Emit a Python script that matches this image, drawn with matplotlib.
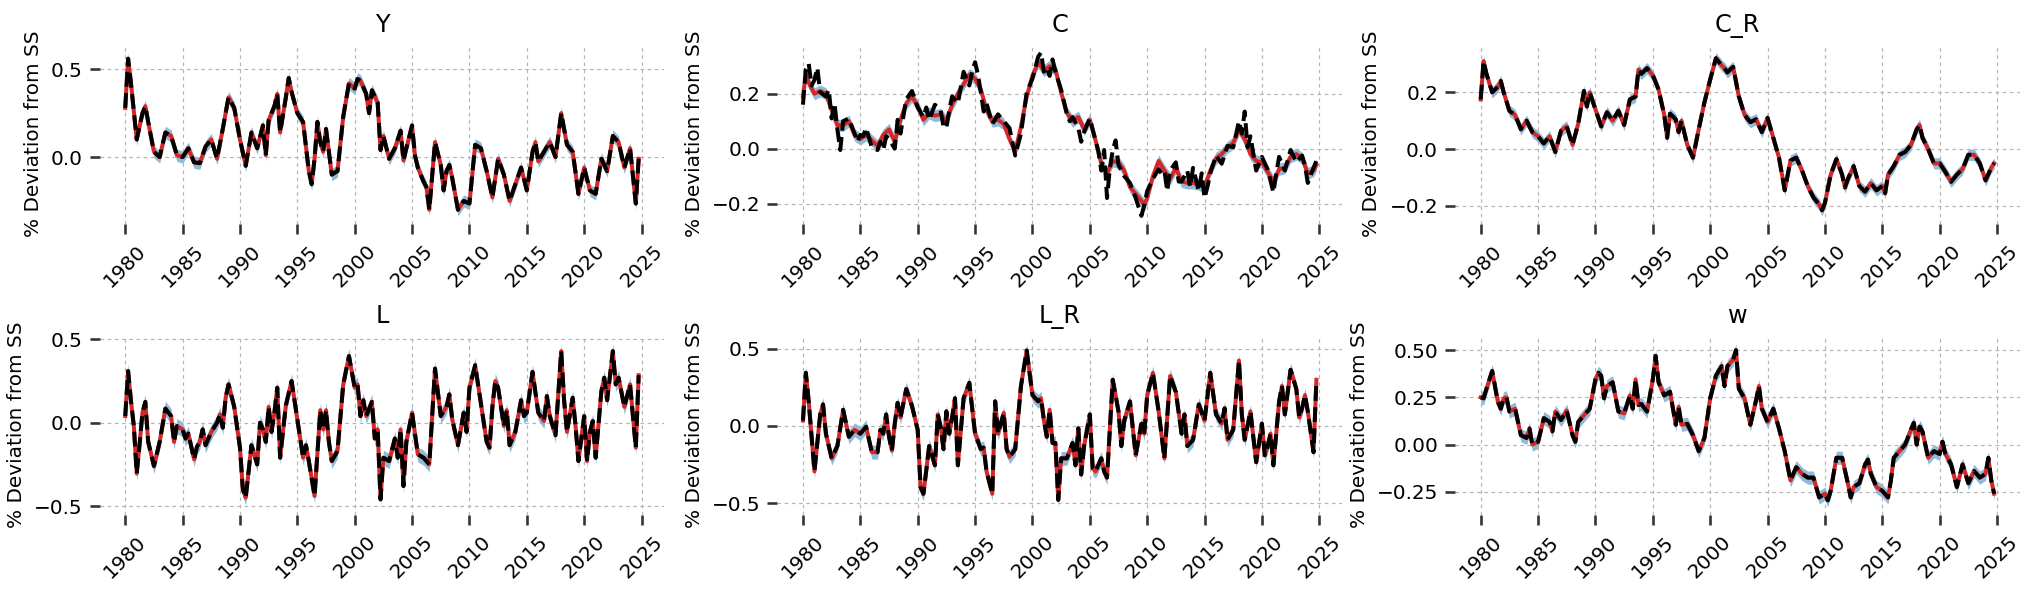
import matplotlib
matplotlib.use("Agg")
import matplotlib.pyplot as plt
from matplotlib.ticker import MultipleLocator
import numpy as np

# ---------------- data ----------------
titles = ["Y", "C", "C_R", "L", "L_R", "w"]
xticks = [1980, 1985, 1990, 1995, 2000, 2005, 2010, 2015, 2020, 2025]
ylabel = "% Deviation from SS"

t_Y = [1980.0, 1980.25, 1980.5, 1981.0, 1981.5, 1981.75, 1982.0, 1982.5, 1983.0, 1983.5, 1984.0, 1984.5,
       1985.0, 1985.5, 1986.0, 1986.5, 1987.0, 1987.5, 1988.0, 1988.5, 1989.0, 1989.5, 1990.0, 1990.5,
       1991.0, 1991.5, 1992.0, 1992.25, 1992.5, 1993.0, 1993.25, 1993.5, 1994.0, 1994.25, 1994.5, 1995.0,
       1995.5, 1996.0, 1996.25, 1996.5, 1996.75, 1997.0, 1997.25, 1997.5, 1998.0, 1998.5, 1999.0, 1999.5,
       2000.0, 2000.25, 2000.5, 2001.0, 2001.25, 2001.5, 2002.0, 2002.25, 2002.5, 2003.0, 2003.5, 2004.0,
       2004.25, 2004.5, 2005.0, 2005.25, 2005.5, 2006.0, 2006.25, 2006.5, 2007.0, 2007.5, 2007.75, 2008.0,
       2008.25, 2008.5, 2009.0, 2009.5, 2010.0, 2010.5, 2011.0, 2011.5, 2012.0, 2012.5, 2013.0, 2013.5,
       2014.0, 2014.5, 2015.0, 2015.5, 2015.75, 2016.0, 2016.5, 2017.0, 2017.5, 2018.0, 2018.5, 2019.0,
       2019.5, 2020.0, 2020.5, 2021.0, 2021.5, 2022.0, 2022.5, 2023.0, 2023.5, 2024.0, 2024.5, 2024.75]
v_Y = [0.28, 0.56, 0.42, 0.10, 0.25, 0.29, 0.20, 0.03, 0.00, 0.14, 0.12, 0.01,
       0.00, 0.05, -0.03, -0.035, 0.06, 0.10, -0.01, 0.16, 0.34, 0.28, 0.10, -0.05,
       0.14, 0.05, 0.18, 0.01, 0.21, 0.29, 0.36, 0.14, 0.34, 0.45, 0.37, 0.25,
       0.20, -0.08, -0.155, -0.01, 0.20, 0.085, 0.03, 0.16, -0.10, -0.08, 0.23, 0.42,
       0.39, 0.445, 0.435, 0.36, 0.25, 0.38, 0.31, 0.04, 0.12, -0.01, 0.05, 0.15,
       -0.02, 0.05, 0.18, 0.01, -0.06, -0.14, -0.17, -0.30, 0.085, -0.045, -0.19, -0.08,
       -0.045, -0.12, -0.30, -0.25, -0.265, 0.07, 0.05, -0.08, -0.23, -0.01, -0.10, -0.25,
       -0.155, -0.06, -0.19, 0.03, 0.085, -0.025, 0.03, 0.085, 0.00, 0.25, 0.07, 0.03,
       -0.21, -0.06, -0.19, -0.21, -0.01, -0.08, 0.12, 0.085, -0.06, 0.05, -0.265, -0.01]

# C: smoothed mean (red) and observed data (black) differ visibly
t_C_mean = [1980.0, 1980.25, 1980.5, 1981.0, 1981.5, 1982.0, 1982.5, 1983.0, 1983.5, 1984.0, 1984.5, 1985.0,
            1985.5, 1986.0, 1986.5, 1987.0, 1987.5, 1988.0, 1988.5, 1989.0, 1989.5, 1990.0, 1990.5, 1991.0,
            1991.5, 1992.0, 1992.5, 1993.0, 1993.5, 1994.0, 1994.5, 1995.0, 1995.5, 1996.0, 1996.5, 1997.0,
            1997.5, 1998.0, 1998.5, 1999.0, 1999.5, 2000.0, 2000.5, 2001.0, 2001.5, 2002.0, 2002.5, 2003.0,
            2003.5, 2004.0, 2004.5, 2005.0, 2005.5, 2006.0, 2006.5, 2007.0, 2007.5, 2008.0, 2008.5, 2009.0,
            2009.5, 2009.75, 2010.0, 2010.5, 2011.0, 2011.5, 2012.0, 2012.5, 2013.0, 2013.5, 2014.0, 2014.5,
            2015.0, 2015.5, 2016.0, 2016.5, 2017.0, 2017.5, 2018.0, 2018.5, 2019.0, 2019.5, 2020.0, 2020.5,
            2021.0, 2021.5, 2022.0, 2022.5, 2023.0, 2023.5, 2024.0, 2024.5, 2024.75]
v_C_mean = [0.19, 0.27, 0.24, 0.20, 0.21, 0.20, 0.14, 0.085, 0.085, 0.10, 0.05, 0.035,
            0.05, 0.03, 0.01, 0.05, 0.07, 0.025, 0.105, 0.165, 0.19, 0.155, 0.105, 0.13,
            0.12, 0.125, 0.10, 0.16, 0.20, 0.235, 0.27, 0.255, 0.215, 0.14, 0.10, 0.105,
            0.09, 0.035, -0.01, 0.08, 0.19, 0.265, 0.315, 0.285, 0.30, 0.29, 0.205, 0.13,
            0.10, 0.115, 0.07, 0.105, 0.03, -0.055, -0.09, -0.045, -0.05, -0.08, -0.14, -0.165,
            -0.19, -0.205, -0.18, -0.10, -0.045, -0.08, -0.11, -0.07, -0.12, -0.125, -0.125, -0.13,
            -0.14, -0.08, -0.035, -0.02, 0.005, 0.02, 0.07, 0.035, -0.02, -0.045, -0.05, -0.085,
            -0.12, -0.075, -0.07, -0.03, -0.02, -0.035, -0.09, -0.08, -0.06]
t_C_obs = [1980.0, 1980.25, 1980.5, 1980.75, 1981.0, 1981.25, 1981.5, 1982.0, 1982.25, 1982.5, 1982.75, 1983.0,
           1983.25, 1983.5, 1984.0, 1984.5, 1984.75, 1985.0, 1985.25, 1985.5, 1986.0, 1986.5, 1986.75, 1987.0,
           1987.25, 1987.5, 1988.0, 1988.25, 1988.5, 1989.0, 1989.5, 1990.0, 1990.5, 1990.75, 1991.0, 1991.5,
           1992.0, 1992.25, 1992.5, 1992.75, 1993.0, 1993.5, 1994.0, 1994.25, 1994.5, 1994.75, 1995.0, 1995.25,
           1995.5, 1995.75, 1996.0, 1996.5, 1997.0, 1997.5, 1998.0, 1998.5, 1999.0, 1999.5, 2000.0, 2000.5,
           2000.75, 2001.0, 2001.25, 2001.5, 2001.75, 2002.0, 2002.5, 2003.0, 2003.25, 2003.5, 2004.0, 2004.25,
           2004.5, 2005.0, 2005.5, 2005.75, 2006.0, 2006.25, 2006.5, 2006.75, 2007.0, 2007.25, 2007.5, 2008.0,
           2008.5, 2009.0, 2009.5, 2009.75, 2010.0, 2010.5, 2011.0, 2011.25, 2011.5, 2011.75, 2012.0, 2012.5,
           2012.75, 2013.0, 2013.5, 2013.75, 2014.0, 2014.5, 2014.75, 2015.0, 2015.25, 2015.5, 2016.0, 2016.5,
           2017.0, 2017.5, 2018.0, 2018.25, 2018.5, 2018.75, 2019.0, 2019.5, 2020.0, 2020.5, 2021.0, 2021.25,
           2021.5, 2022.0, 2022.5, 2023.0, 2023.5, 2023.75, 2024.0, 2024.5, 2024.75]
v_C_obs = [0.16, 0.29, 0.31, 0.23, 0.25, 0.295, 0.205, 0.19, 0.215, 0.11, 0.165, 0.07,
           -0.005, 0.10, 0.11, 0.055, 0.025, 0.05, 0.045, 0.075, 0.005, -0.005, 0.025, -0.005,
           0.045, 0.035, 0.00, 0.105, 0.055, 0.18, 0.21, 0.15, 0.115, 0.15, 0.105, 0.16,
           0.14, 0.08, 0.075, 0.14, 0.19, 0.165, 0.28, 0.255, 0.23, 0.28, 0.315, 0.27,
           0.205, 0.135, 0.165, 0.09, 0.125, 0.10, 0.075, -0.025, 0.055, 0.205, 0.255, 0.335,
           0.35, 0.28, 0.295, 0.265, 0.325, 0.28, 0.215, 0.125, 0.10, 0.115, 0.075, 0.025,
           0.06, 0.11, 0.03, -0.01, -0.08, -0.005, -0.18, -0.07, -0.005, 0.03, -0.06, -0.10,
           -0.125, -0.18, -0.245, -0.205, -0.155, -0.11, -0.075, -0.09, -0.08, -0.155, -0.08, -0.05,
           -0.12, -0.12, -0.08, -0.14, -0.07, -0.155, -0.09, -0.18, -0.14, -0.09, -0.025, -0.055,
           0.01, 0.005, 0.10, 0.055, 0.135, 0.005, 0.045, -0.08, -0.03, -0.075, -0.16, -0.09,
           -0.03, -0.08, -0.005, -0.05, -0.025, -0.06, -0.125, -0.07, -0.045]

t_CR = [1980.0, 1980.25, 1980.5, 1981.0, 1981.5, 1981.75, 1982.0, 1982.5, 1983.0, 1983.5, 1984.0, 1984.5,
        1985.0, 1985.5, 1986.0, 1986.5, 1987.0, 1987.5, 1988.0, 1988.5, 1989.0, 1989.25, 1989.5, 1990.0,
        1990.5, 1991.0, 1991.5, 1992.0, 1992.5, 1993.0, 1993.5, 1993.75, 1994.0, 1994.5, 1995.0, 1995.5,
        1996.0, 1996.25, 1996.5, 1997.0, 1997.25, 1997.5, 1998.0, 1998.5, 1999.0, 1999.5, 2000.0, 2000.5,
        2001.0, 2001.25, 2001.5, 2002.0, 2002.5, 2003.0, 2003.5, 2004.0, 2004.5, 2005.0, 2005.5, 2006.0,
        2006.5, 2007.0, 2007.5, 2008.0, 2008.5, 2009.0, 2009.5, 2009.75, 2010.0, 2010.5, 2011.0, 2011.5,
        2011.75, 2012.0, 2012.5, 2013.0, 2013.5, 2014.0, 2014.5, 2015.0, 2015.25, 2015.5, 2016.0, 2016.5,
        2017.0, 2017.5, 2018.0, 2018.25, 2018.5, 2019.0, 2019.5, 2020.0, 2020.5, 2021.0, 2021.5, 2022.0,
        2022.5, 2023.0, 2023.5, 2024.0, 2024.5, 2024.75]
v_CR = [0.175, 0.31, 0.265, 0.20, 0.22, 0.24, 0.20, 0.135, 0.12, 0.07, 0.10, 0.06,
        0.045, 0.02, 0.045, -0.01, 0.065, 0.08, 0.015, 0.09, 0.205, 0.15, 0.20, 0.14,
        0.08, 0.13, 0.10, 0.135, 0.085, 0.175, 0.185, 0.28, 0.265, 0.285, 0.26, 0.21,
        0.12, 0.04, 0.125, 0.105, 0.06, 0.10, 0.015, -0.03, 0.07, 0.165, 0.245, 0.32,
        0.295, 0.285, 0.27, 0.29, 0.185, 0.12, 0.095, 0.105, 0.06, 0.11, 0.04, -0.03,
        -0.145, -0.04, -0.03, -0.075, -0.13, -0.17, -0.195, -0.215, -0.19, -0.09, -0.035, -0.09,
        -0.135, -0.105, -0.06, -0.13, -0.15, -0.12, -0.145, -0.13, -0.155, -0.09, -0.06, -0.02,
        -0.01, 0.015, 0.07, 0.085, 0.04, 0.00, -0.05, -0.05, -0.08, -0.115, -0.09, -0.07,
        -0.02, -0.02, -0.05, -0.11, -0.065, -0.05]

t_L = [1980.0, 1980.25, 1980.5, 1980.75, 1981.0, 1981.25, 1981.5, 1981.75, 1982.0, 1982.5, 1983.0, 1983.5,
       1984.0, 1984.25, 1984.5, 1985.0, 1985.25, 1985.5, 1986.0, 1986.25, 1986.5, 1986.75, 1987.0, 1987.5,
       1988.0, 1988.25, 1988.5, 1988.75, 1989.0, 1989.5, 1990.0, 1990.25, 1990.5, 1991.0, 1991.5, 1991.75,
       1992.0, 1992.25, 1992.5, 1992.75, 1993.0, 1993.25, 1993.5, 1994.0, 1994.5, 1995.0, 1995.5, 1995.75,
       1996.0, 1996.5, 1997.0, 1997.25, 1997.5, 1997.75, 1998.0, 1998.5, 1999.0, 1999.5, 2000.0, 2000.25,
       2000.5, 2000.75, 2001.0, 2001.5, 2001.75, 2002.0, 2002.25, 2002.5, 2003.0, 2003.5, 2003.75, 2004.0,
       2004.25, 2004.5, 2005.0, 2005.5, 2006.0, 2006.5, 2007.0, 2007.5, 2008.0, 2008.25, 2008.5, 2009.0,
       2009.5, 2009.75, 2010.0, 2010.5, 2011.0, 2011.5, 2011.75, 2012.0, 2012.25, 2012.5, 2013.0, 2013.25,
       2013.5, 2014.0, 2014.5, 2014.75, 2015.0, 2015.5, 2016.0, 2016.5, 2016.75, 2017.0, 2017.5, 2018.0,
       2018.25, 2018.5, 2019.0, 2019.25, 2019.5, 2020.0, 2020.25, 2020.5, 2020.75, 2021.0, 2021.5, 2021.75,
       2022.0, 2022.5, 2022.75, 2023.0, 2023.5, 2024.0, 2024.5, 2024.75]
v_L = [0.04, 0.31, 0.13, -0.02, -0.305, -0.13, 0.06, 0.125, -0.115, -0.26, -0.115, 0.085,
       0.04, -0.115, -0.02, -0.04, -0.095, -0.065, -0.22, -0.145, -0.115, -0.04, -0.135, -0.055,
       0.00, 0.05, -0.03, 0.15, 0.23, 0.095, -0.15, -0.40, -0.45, -0.135, -0.25, 0.00,
       -0.04, -0.115, 0.095, -0.055, 0.06, 0.21, -0.21, 0.105, 0.25, 0.02, -0.21, -0.135,
       -0.23, -0.44, 0.075, -0.04, 0.075, -0.115, -0.23, -0.17, 0.23, 0.40, 0.21, 0.23,
       0.04, 0.135, 0.04, 0.125, -0.095, -0.04, -0.46, -0.21, -0.23, -0.095, -0.21, -0.04,
       -0.38, -0.115, 0.06, -0.19, -0.21, -0.25, 0.325, 0.04, 0.095, 0.17, 0.02, -0.135,
       0.06, -0.055, 0.21, 0.345, 0.115, -0.115, -0.15, 0.095, 0.25, 0.21, -0.02, 0.075,
       -0.135, -0.055, 0.135, 0.04, 0.06, 0.305, 0.06, 0.01, 0.16, 0.04, -0.075, 0.43,
       0.135, -0.055, 0.15, -0.02, -0.23, 0.04, -0.23, -0.055, 0.01, -0.21, 0.19, 0.27,
       0.135, 0.43, 0.23, 0.27, 0.095, 0.23, -0.15, 0.285]

t_LR = [1980.0, 1980.25, 1980.5, 1981.0, 1981.5, 1981.75, 1982.0, 1982.5, 1983.0, 1983.5, 1984.0, 1984.5,
        1985.0, 1985.5, 1986.0, 1986.5, 1986.75, 1987.0, 1987.25, 1987.5, 1987.75, 1988.0, 1988.25, 1988.5,
        1989.0, 1989.5, 1990.0, 1990.25, 1990.5, 1991.0, 1991.5, 1991.75, 1992.0, 1992.25, 1992.5, 1992.75,
        1993.0, 1993.25, 1993.5, 1994.0, 1994.5, 1995.0, 1995.5, 1995.75, 1996.0, 1996.5, 1996.75, 1997.0,
        1997.5, 1997.75, 1998.0, 1998.5, 1999.0, 1999.5, 2000.0, 2000.5, 2000.75, 2001.0, 2001.25, 2001.5,
        2001.75, 2002.0, 2002.25, 2002.5, 2003.0, 2003.5, 2003.75, 2004.0, 2004.25, 2004.5, 2005.0, 2005.25,
        2005.5, 2006.0, 2006.25, 2006.5, 2007.0, 2007.5, 2007.75, 2008.0, 2008.5, 2009.0, 2009.5, 2009.75,
        2010.0, 2010.5, 2011.0, 2011.5, 2012.0, 2012.5, 2013.0, 2013.25, 2013.5, 2014.0, 2014.5, 2015.0,
        2015.5, 2016.0, 2016.5, 2016.75, 2017.0, 2017.5, 2018.0, 2018.25, 2018.5, 2019.0, 2019.5, 2020.0,
        2020.25, 2020.5, 2020.75, 2021.0, 2021.5, 2021.75, 2022.0, 2022.5, 2023.0, 2023.25, 2023.5, 2023.75,
        2024.0, 2024.5, 2024.75]
v_LR = [0.035, 0.345, 0.16, -0.295, 0.075, 0.14, -0.05, -0.21, -0.13, 0.105, -0.07, -0.025,
        -0.05, -0.005, -0.17, -0.17, -0.025, -0.05, 0.075, -0.07, -0.16, 0.015, 0.15, 0.055,
        0.24, 0.13, -0.025, -0.40, -0.44, -0.13, -0.255, 0.075, -0.005, -0.15, 0.095, -0.05,
        0.055, 0.18, -0.255, 0.18, 0.28, -0.05, -0.15, -0.14, -0.295, -0.44, 0.16, -0.05,
        0.085, -0.15, -0.20, -0.15, 0.26, 0.49, 0.20, 0.16, 0.18, 0.035, -0.07, 0.105,
        -0.11, -0.11, -0.48, -0.21, -0.21, -0.11, -0.255, -0.015, -0.315, -0.13, 0.075, -0.275,
        -0.295, -0.21, -0.295, -0.335, 0.30, 0.095, -0.13, 0.035, 0.16, -0.19, 0.015, -0.05,
        0.20, 0.345, 0.095, -0.21, 0.325, 0.22, -0.05, 0.075, -0.13, -0.09, 0.14, 0.035,
        0.345, 0.075, 0.015, 0.115, -0.09, -0.025, 0.425, 0.075, -0.09, 0.095, -0.235, 0.015,
        -0.19, -0.13, -0.05, -0.255, 0.16, 0.26, 0.075, 0.365, 0.24, 0.055, 0.115, 0.20,
        0.095, -0.17, 0.30]

t_w = [1980.0, 1980.25, 1980.5, 1981.0, 1981.5, 1981.75, 1982.0, 1982.25, 1982.5, 1983.0, 1983.5, 1984.0,
       1984.25, 1984.5, 1985.0, 1985.5, 1986.0, 1986.25, 1986.5, 1987.0, 1987.5, 1988.0, 1988.25, 1988.5,
       1989.0, 1989.5, 1990.0, 1990.25, 1990.5, 1990.75, 1991.0, 1991.5, 1992.0, 1992.5, 1993.0, 1993.25,
       1993.5, 1993.75, 1994.0, 1994.5, 1995.0, 1995.25, 1995.5, 1996.0, 1996.5, 1997.0, 1997.25, 1997.5,
       1998.0, 1998.5, 1999.0, 1999.5, 2000.0, 2000.5, 2001.0, 2001.25, 2001.5, 2002.0, 2002.25, 2002.5,
       2003.0, 2003.5, 2004.0, 2004.25, 2004.5, 2005.0, 2005.5, 2006.0, 2006.5, 2007.0, 2007.5, 2008.0,
       2008.5, 2009.0, 2009.5, 2010.0, 2010.25, 2010.5, 2011.0, 2011.5, 2012.0, 2012.25, 2012.5, 2013.0,
       2013.5, 2013.75, 2014.0, 2014.5, 2015.0, 2015.5, 2015.75, 2016.0, 2016.5, 2017.0, 2017.5, 2017.75,
       2018.0, 2018.25, 2018.5, 2019.0, 2019.5, 2020.0, 2020.25, 2020.5, 2021.0, 2021.5, 2022.0, 2022.5,
       2023.0, 2023.5, 2024.0, 2024.25, 2024.5, 2024.75]
v_w = [0.25, 0.245, 0.295, 0.39, 0.225, 0.19, 0.245, 0.25, 0.175, 0.19, 0.05, 0.035,
       0.085, 0.00, 0.015, 0.14, 0.12, 0.07, 0.175, 0.13, 0.18, 0.05, 0.015, 0.12,
       0.155, 0.19, 0.345, 0.38, 0.365, 0.245, 0.31, 0.33, 0.175, 0.165, 0.26, 0.19,
       0.345, 0.21, 0.215, 0.175, 0.345, 0.47, 0.33, 0.26, 0.28, 0.105, 0.20, 0.105,
       0.11, 0.05, -0.035, 0.035, 0.245, 0.365, 0.415, 0.31, 0.415, 0.45, 0.50, 0.295,
       0.245, 0.105, 0.235, 0.31, 0.19, 0.12, 0.19, 0.085, -0.035, -0.19, -0.12, -0.155,
       -0.175, -0.175, -0.28, -0.26, -0.295, -0.245, -0.07, -0.07, -0.205, -0.28, -0.225, -0.205,
       -0.105, -0.08, -0.155, -0.225, -0.245, -0.28, -0.19, -0.07, -0.035, 0.00, 0.08, 0.115,
       0.00, 0.095, 0.07, -0.07, -0.035, -0.05, 0.015, -0.05, -0.105, -0.225, -0.105, -0.205,
       -0.14, -0.175, -0.155, -0.07, -0.19, -0.26]

# half-width of the shaded interval around the mean, per panel
band_hw = [0.035, 0.022, 0.02, 0.045, 0.045, 0.035]

# (mean t, mean v, obs t, obs v) per panel; where red and black coincide the same values serve both
panels = [
    (t_Y, v_Y, t_Y, v_Y),
    (t_C_mean, v_C_mean, t_C_obs, v_C_obs),
    (t_CR, v_CR, t_CR, v_CR),
    (t_L, v_L, t_L, v_L),
    (t_LR, v_LR, t_LR, v_LR),
    (t_w, v_w, t_w, v_w),
]
ytick_step = [0.5, 0.2, 0.2, 0.5, 0.5, 0.25]

# ---------------- plot ----------------
plt.rcParams['font.family'] = ['DejaVu Sans']
fig, axes = plt.subplots(2, 3, figsize=(2032 / 144, 592 / 144), dpi=144)
fig.subplots_adjust(left=0.049, right=0.994, top=0.925, bottom=0.13, hspace=0.62, wspace=0.2)

for ax, title, (tm, vm, to, vo), hw, step in zip(axes.flat, titles, panels, band_hw, ytick_step):
    tm = np.asarray(tm); vm = np.asarray(vm)
    ax.fill_between(tm, vm - hw, vm + hw, color='#8fbbd9', lw=0, zorder=2)
    ax.plot(tm, vm, color='#d62728', lw=2.0, zorder=3)
    ax.plot(to, vo, color='black', lw=2.0, ls='--', zorder=4)
    ax.set_title(title, fontsize=12)
    ax.set_ylabel(ylabel, fontsize=10)
    ax.set_xticks(xticks)
    ax.set_xticklabels([str(x) for x in xticks], rotation=45)
    ax.yaxis.set_major_locator(MultipleLocator(step))
    ax.grid(True, ls=(0, (3, 3)), color='#b5b5b5', lw=0.6)
    ax.set_axisbelow(True)
    for s in ax.spines.values():
        s.set_visible(False)
    ax.tick_params(axis='both', direction='out', length=5, width=1.3, color='#333333', labelsize=10)

fig.savefig("out.png", dpi=144)
